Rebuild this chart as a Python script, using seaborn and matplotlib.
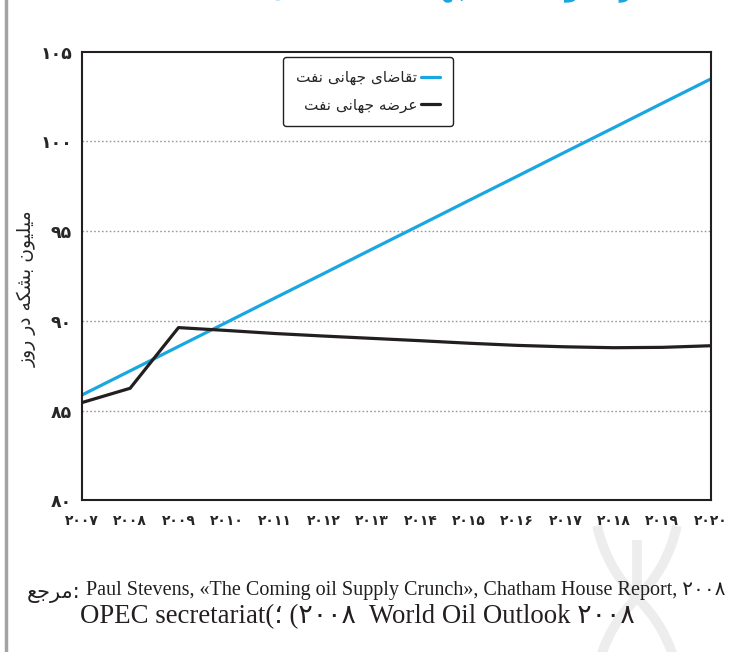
import pandas as pd
import seaborn as sns
import matplotlib.pyplot as plt
from matplotlib.patches import Arc

# ---- data -------------------------------------------------------------
years = list(range(2007, 2021))
demand = [85.87, 87.22, 88.58, 89.93, 91.29, 92.64, 94.00,
          95.35, 96.71, 98.06, 99.42, 100.77, 102.13, 103.48]
supply = [85.45, 86.25, 89.63, 89.47, 89.30, 89.16, 89.03,
          88.90, 88.76, 88.64, 88.56, 88.51, 88.53, 88.62]
y_ticks = [80, 85, 90, 95, 100, 105]

demand_name = "تقاضای جهانی نفت"
supply_name = "عرضه جهانی نفت"
y_title = "میلیون بشکه در روز"
chart_title = "عرضه و تقاضای جهانی نفت تا سال"
title_year = 2020
source_word = "مرجع"
source_line1 = "Paul Stevens, «The Coming oil Supply Crunch», Chatham House Report, "
source_line2 = "OPEC secretariat(؛ ("
source_line2b = "  World Oil Outlook "
source_year = 2008

BLUE = "#1aa7e1"
BLACK = "#231f20"

# ---- Persian text helpers (presentation forms + visual order) ----------
FORMS = {
    'ا': ('\uFE8D', '\uFE8E', None, None),
    'ب': ('\uFE8F', '\uFE90', '\uFE91', '\uFE92'),
    'ت': ('\uFE95', '\uFE96', '\uFE97', '\uFE98'),
    'ج': ('\uFE9D', '\uFE9E', '\uFE9F', '\uFEA0'),
    'د': ('\uFEA9', '\uFEAA', None, None),
    'ر': ('\uFEAD', '\uFEAE', None, None),
    'ز': ('\uFEAF', '\uFEB0', None, None),
    'س': ('\uFEB1', '\uFEB2', '\uFEB3', '\uFEB4'),
    'ش': ('\uFEB5', '\uFEB6', '\uFEB7', '\uFEB8'),
    'ض': ('\uFEBD', '\uFEBE', '\uFEBF', '\uFEC0'),
    'ع': ('\uFEC9', '\uFECA', '\uFECB', '\uFECC'),
    'ف': ('\uFED1', '\uFED2', '\uFED3', '\uFED4'),
    'ق': ('\uFED5', '\uFED6', '\uFED7', '\uFED8'),
    'ک': ('\uFB8E', '\uFB8F', '\uFEDB', '\uFEDC'),
    'ل': ('\uFEDD', '\uFEDE', '\uFEDF', '\uFEE0'),
    'م': ('\uFEE1', '\uFEE2', '\uFEE3', '\uFEE4'),
    'ن': ('\uFEE5', '\uFEE6', '\uFEE7', '\uFEE8'),
    'ه': ('\uFEE9', '\uFEEA', '\uFEEB', '\uFEEC'),
    'و': ('\uFEED', '\uFEEE', None, None),
    'ی': ('\uFEEF', '\uFEF0', '\uFEF3', '\uFEF4'),
}


def rtl(text):
    out = []
    for i, ch in enumerate(text):
        if ch not in FORMS:
            out.append(ch)
            continue
        prev = text[i - 1] if i > 0 else ''
        nxt = text[i + 1] if i + 1 < len(text) else ''
        join_prev = prev in FORMS and FORMS[prev][2] is not None
        join_next = FORMS[ch][2] is not None and nxt in FORMS
        iso, fin, ini, med = FORMS[ch]
        if join_prev and join_next:
            out.append(med)
        elif join_prev:
            out.append(fin)
        elif join_next:
            out.append(ini)
        else:
            out.append(iso)
    return ''.join(reversed(out))


def fa(n):
    return str(n).translate(str.maketrans('0123456789', '۰۱۲۳۴۵۶۷۸۹'))


# ---- figure -----------------------------------------------------------
sns.set_style("white")
plt.rcParams['font.family'] = ['DejaVu Sans']

W, H = 729, 652
fig = plt.figure(figsize=(7.29, 6.52), dpi=100)

# pixel-space layer for page decorations
deco = fig.add_axes([0, 0, 1, 1], zorder=-10)
deco.set_xlim(0, W)
deco.set_ylim(H, 0)
deco.axis('off')
WM = '#ededed'
for (cx, cy), (t1, t2) in [((737, 700), (-168, -134)), ((537, 700), (-46, -12)),
                           ((737, 496), (134, 168)), ((537, 496), (12, 46))]:
    deco.add_patch(Arc((cx, cy), 286, 286, theta1=t1, theta2=t2, color=WM, lw=7))
deco.plot([637, 637], [540, 596], color=WM, lw=7, solid_capstyle='butt')
deco.plot([6, 6], [0, H], color='#a3a3a3', lw=2.5)

ax = fig.add_axes([0.1121, 0.2324, 0.8628, 0.6883])

df = pd.DataFrame({
    'year': years * 2,
    'value': demand + supply,
    'series': [rtl(demand_name)] * len(years) + [rtl(supply_name)] * len(years),
})

sns.lineplot(data=df, x='year', y='value', hue='series',
             palette=[BLUE, BLACK], linewidth=2.3, ax=ax)

ax.set_xlim(years[0], years[-1])
ax.set_ylim(y_ticks[0], y_ticks[-1])
ax.set_xticks(years)
ax.set_xticklabels([fa(y) for y in years], fontsize=10, fontweight='bold')
ax.set_yticks(y_ticks)
ax.set_yticklabels([fa(v) for v in y_ticks], fontsize=12.5, fontweight='bold')
ax.tick_params(axis='both', direction='out', length=5, width=1.2, color=BLACK)
ax.tick_params(axis='x', pad=5)
ax.tick_params(axis='y', pad=2)
ax.set_xlabel('')
ax.set_ylabel(rtl(y_title), fontsize=13.5)
ax.yaxis.set_label_coords(-0.072, 0.473)

for v in y_ticks[1:-1]:
    ax.axhline(v, color='#9a9a9a', lw=1.0, ls=(0, (1.2, 1.6)), zorder=0)

for s in ax.spines.values():
    s.set_visible(True)
    s.set_color(BLACK)
    s.set_linewidth(1.5)

handles, labels = ax.get_legend_handles_labels()
leg = ax.legend(handles, labels, loc='upper left', bbox_to_anchor=(0.32, 0.988),
                borderaxespad=0, markerfirst=False, frameon=True, fancybox=True,
                fontsize=11, handlelength=1.25, handletextpad=0.25,
                labelspacing=0.8, borderpad=0.85, edgecolor=BLACK, framealpha=1)
leg.get_frame().set_linewidth(1.0)
for t in leg.get_texts():
    t.set_ha('right')

# title running off the upper edge
fig.text(0.588, 1 + 4 / H, fa(title_year) + ' ' + rtl(chart_title), ha='center',
         va='baseline', color=BLUE, fontsize=15.5, fontweight='bold')

# source notes
fig.text(80 / W, 1 - 598 / H, rtl(source_word) + ':', ha='right', va='baseline',
         fontsize=15, color=BLACK)
fig.text(86 / W, 1 - 595 / H, source_line1 + fa(source_year), ha='left',
         va='baseline', fontsize=14.5, color=BLACK,
         family=['Liberation Serif', 'DejaVu Sans'])
fig.text(80 / W, 1 - 623 / H,
         source_line2 + fa(source_year) + source_line2b + fa(source_year),
         ha='left', va='baseline', fontsize=19.3, color=BLACK,
         family=['Liberation Serif', 'DejaVu Sans'])

fig.savefig('out.png', dpi=100)
